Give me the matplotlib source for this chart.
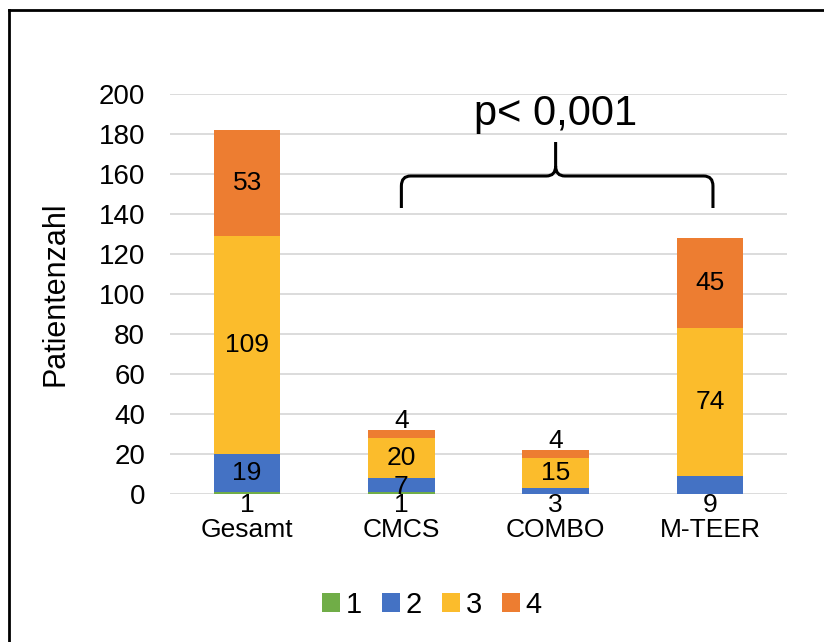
import matplotlib.pyplot as plt
from matplotlib.lines import Line2D
from matplotlib.path import Path
from matplotlib.patches import PathPatch
import numpy as np

plt.rcParams['font.family'] = ['Liberation Sans', 'DejaVu Sans']

groups = ['Gesamt', 'CMCS', 'COMBO', 'M-TEER']
series_names = ['1', '2', '3', '4']
grade1 = [1, 1, 0, 0]
grade2 = [19, 7, 3, 9]
grade3 = [109, 20, 15, 74]
grade4 = [53, 4, 4, 45]
colors = ['#70AD47', '#4472C4', '#FBBC2C', '#ED7D31']
p_text = 'p< 0,001'

fig = plt.figure(figsize=(8.24, 6.42), dpi=100)
ax = fig.add_axes([170 / 824, 1 - 494 / 642, 617 / 824, 400 / 642])

x = np.arange(len(groups))
width = 0.43
bottom = np.zeros(len(groups))
stack = [grade1, grade2, grade3, grade4]
for vals, col, name in zip(stack, colors, series_names):
    ax.bar(x, vals, width, bottom=bottom, color=col, label=name, zorder=3)
    bottom += np.array(vals)

# value labels: small segments get pushed below the axis or above the bar
lbl = dict(ha='center', va='center', fontsize=19, color='black', zorder=5)
below = -5.5
for i in range(len(groups)):
    if grade1[i] > 0:
        ax.text(x[i], below, str(grade1[i]), **lbl)
    # grade 2
    if grade2[i] >= 15:
        ax.text(x[i], grade1[i] + grade2[i] / 2, str(grade2[i]), **lbl)
    elif grade1[i] > 0:
        ax.text(x[i], grade1[i] + 2.5, str(grade2[i]), **lbl)
    else:
        ax.text(x[i], below, str(grade2[i]), **lbl)
    base3 = grade1[i] + grade2[i]
    ax.text(x[i], base3 + grade3[i] / 2, str(grade3[i]), **lbl)
    base4 = base3 + grade3[i]
    if grade4[i] >= 15:
        ax.text(x[i], base4 + grade4[i] / 2, str(grade4[i]), **lbl)
    else:
        ax.text(x[i], base4 + grade4[i] + 4.5, str(grade4[i]), **lbl)

ax.set_xlim(-0.5, 3.5)
ax.set_ylim(0, 200)
ax.set_yticks(np.arange(0, 201, 20))
ax.yaxis.grid(True, color='#D9D9D9', linewidth=1.3, zorder=0)
ax.set_axisbelow(True)
for s in ['top', 'right', 'left', 'bottom']:
    ax.spines[s].set_visible(False)
ax.tick_params(axis='y', length=0, labelsize=20, pad=18)
ax.tick_params(axis='x', length=0, labelsize=19, pad=17)
ax.set_xticks(x)
ax.set_xticklabels(groups)
ax.set_ylabel('Patientenzahl', fontsize=22, labelpad=20)

# curly brace between CMCS and M-TEER
xl, xr = x[1], x[3] + 0.02
xm = (x[1] + x[3]) / 2
yb, yh, yt = 143, 159, 176
rx, ry = 0.06, 5
verts = [(xl, yb), (xl, yh - ry), (xl, yh), (xl + rx, yh),
         (xm - rx, yh), (xm, yh), (xm, yh + ry), (xm, yt),
         (xm, yh + ry), (xm, yh), (xm + rx, yh),
         (xr - rx, yh), (xr, yh), (xr, yh - ry), (xr, yb)]
codes = [Path.MOVETO, Path.LINETO, Path.CURVE3, Path.CURVE3,
         Path.LINETO, Path.CURVE3, Path.CURVE3, Path.LINETO,
         Path.MOVETO, Path.CURVE3, Path.CURVE3,
         Path.LINETO, Path.CURVE3, Path.CURVE3, Path.LINETO]
ax.add_patch(PathPatch(Path(verts, codes), fill=False, lw=2.2, color='black',
                       clip_on=False, zorder=6))
ax.text(xm, 190, p_text, ha='center', va='center', fontsize=30, zorder=6)

fig.legend(loc='center', bbox_to_anchor=(432 / 824, 1 - 605 / 642), ncol=4,
           frameon=False, fontsize=21, handlelength=0.6, handleheight=0.6,
           handletextpad=0.2, columnspacing=0.7)

# outer frame (top and left edges)
fig.add_artist(Line2D([9 / 824, 9 / 824], [0, 1 - 10 / 642], color='black', lw=2))
fig.add_artist(Line2D([9 / 824, 1], [1 - 10 / 642, 1 - 10 / 642], color='black', lw=2))

fig.savefig('out.png', dpi=100)
